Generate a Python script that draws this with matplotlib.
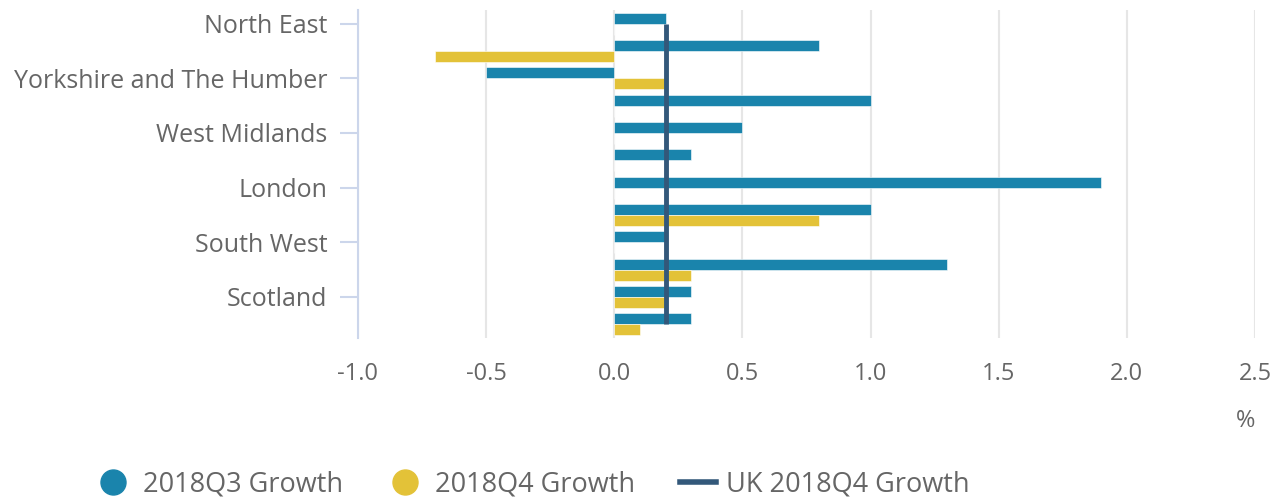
import matplotlib
matplotlib.use("Agg")
import matplotlib.pyplot as plt
from matplotlib.lines import Line2D
import numpy as np

regions = ["North East", "North West", "Yorkshire and The Humber", "East Midlands",
           "West Midlands", "East", "London", "South East", "South West", "Wales",
           "Scotland", "Northern Ireland"]
q3_growth = [0.2, 0.8, -0.5, 1.0, 0.5, 0.3, 1.9, 1.0, 0.2, 1.3, 0.3, 0.3]
q4_growth = [0.0, -0.7, 0.2, 0.0, 0.0, 0.0, 0.0, 0.8, 0.0, 0.3, 0.2, 0.1]
uk_q4_growth = [0.2] * 12
x_ticks = [-1.0, -0.5, 0.0, 0.5, 1.0, 1.5, 2.0, 2.5]
series_names = ["2018Q3 Growth", "2018Q4 Growth", "UK 2018Q4 Growth"]

C_Q3 = "#1a84ac"
C_Q4 = "#e3c238"
C_UK = "#33587a"
GRAY = "#666666"

plt.rcParams['font.family'] = ['Open Sans', 'DejaVu Sans']

W, H = 1284, 497
fig = plt.figure(figsize=(W/100, H/100), dpi=100)
ax = fig.add_axes([358/W, 1-338/H, (1255-358)/W, (338-10)/H])

y = np.arange(len(regions))
ax.barh(y - 0.2, q3_growth, height=0.4, color=C_Q3, zorder=3, edgecolor='white', linewidth=0.4)
ax.barh(y + 0.2, q4_growth, height=0.4, color=C_Q4, zorder=3, edgecolor='white', linewidth=0.4)
ax.plot(uk_q4_growth, y, color=C_UK, lw=3.5, zorder=4, solid_capstyle='butt')

ax.set_xlim(-1.0, 2.5)
ax.set_ylim(len(regions) - 0.5, -0.5)
ax.set_xticks(x_ticks)
ax.set_xticklabels([f"{v:.1f}" for v in x_ticks])
ax.set_yticks(y[::2])
ax.set_yticklabels([regions[i] for i in y[::2]])

ax.grid(axis='x', color='#e6e6e6', lw=1.5, zorder=0)
for s in ['top', 'right', 'bottom']:
    ax.spines[s].set_visible(False)
ax.spines['left'].set_color('#ccd6eb')
ax.spines['left'].set_linewidth(1.5)
ax.tick_params(axis='y', length=13, width=1.5, color='#ccd6eb', labelcolor=GRAY,
               labelsize=18, pad=9)
ax.tick_params(axis='x', length=0, labelcolor=GRAY, labelsize=17, pad=17)

fig.text(1255/W, 1-421/H, "%", ha='right', va='center', color=GRAY, fontsize=17)

# legend (manual placement)
ly = 1 - 482/H
fig.add_artist(Line2D([113/W], [ly], marker='o', ls='none', color=C_Q3, markersize=18,
                      transform=fig.transFigure))
fig.add_artist(Line2D([405/W], [ly], marker='o', ls='none', color=C_Q4, markersize=18,
                      transform=fig.transFigure))
fig.add_artist(Line2D([680/W, 716/W], [ly, ly], color=C_UK, lw=4,
                      transform=fig.transFigure))
for xpix, name in zip([143, 435, 726], series_names):
    fig.text(xpix/W, ly - 2/H, name, ha='left', va='center', color=GRAY, fontsize=19.5)

fig.savefig("out.png", dpi=100)
